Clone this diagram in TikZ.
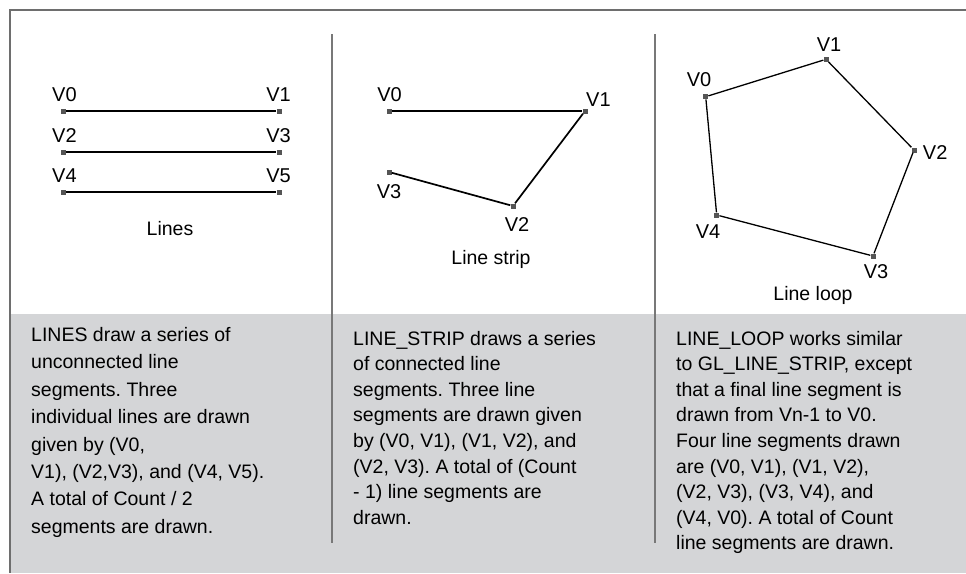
\documentclass[tikz,border=0pt]{standalone}
\usepackage{fontspec}
\setmainfont{Liberation Sans}
\frenchspacing
\definecolor{framegray}{RGB}{110,110,110}
\definecolor{dividergray}{RGB}{120,120,120}
\definecolor{panelgray}{RGB}{212,213,215}
\definecolor{vtxgray}{RGB}{85,85,85}
\newcommand{\descfont}[1]{\fontsize{19.5}{#1}\selectfont}
\begin{document}
\begin{tikzpicture}[x=1pt,y=-1pt,
  frameline/.style={draw=framegray,line width=2pt},
  divider/.style={draw=dividergray,line width=1.5pt},
  vtx/.style={rectangle,fill=vtxgray,inner sep=0pt,minimum size=5pt},
  vlabel/.style={inner sep=0pt,font=\fontsize{20}{24}\selectfont},
  caption/.style={inner sep=0pt,anchor=base,font=\fontsize{19.5}{24}\selectfont},
  desc/.style={inner sep=0pt,anchor=base west},
  seg/.style={draw=black,line width=#1},
  seg/.default=1.5pt]
\useasboundingbox (0,0) rectangle (966,573);

% grey band behind the descriptions, and the outer frame
\fill[panelgray] (10,314) rectangle (966,573);
\draw[frameline] (966,10) -- (10,10) -- (10,573);

% column separators
\draw[divider] (332,34) -- (332,543);
\draw[divider] (655,34) -- (655,543);

% ---------- Lines ----------
\node[vtx] (a0) at (63,111) {};
\node[vtx] (a1) at (279,111) {};
\node[vtx] (a2) at (63,152) {};
\node[vtx] (a3) at (279,152) {};
\node[vtx] (a4) at (63,192) {};
\node[vtx] (a5) at (279,192) {};
\draw[seg=2pt] (a0) -- (a1);
\draw[seg=2pt] (a2) -- (a3);
\draw[seg=2pt] (a4) -- (a5);
\node[vlabel,anchor=base west] (la0) at (52,101) {V0};
\node[vlabel,anchor=base east] (la1) at (291,101) {V1};
\node[vlabel,anchor=base west] (la2) at (52,142) {V2};
\node[vlabel,anchor=base east] (la3) at (291,142) {V3};
\node[vlabel,anchor=base west] (la4) at (52,182) {V4};
\node[vlabel,anchor=base east] (la5) at (291,182) {V5};
\node[caption] (capa) at (170,235.5) {Lines};

% ---------- Line strip ----------
\node[vtx] (b0) at (389,111) {};
\node[vtx] (b1) at (585,111) {};
\node[vtx] (b2) at (513,206) {};
\node[vtx] (b3) at (389,172) {};
\draw[seg=1.7pt] (b0) -- (b1);
\draw[seg=1.7pt] (b1) -- (b2);
\draw[seg=1.7pt] (b2) -- (b3);
\node[vlabel,anchor=base] (lb0) at (389.5,101) {V0};
\node[vlabel,anchor=base west] (lb1) at (586,106.7) {V1};
\node[vlabel,anchor=base] (lb3) at (389,198.3) {V3};
\node[vlabel,anchor=base] (lb2) at (517,231.7) {V2};
\node[caption] (capb) at (491,264.5) {Line strip};

% ---------- Line loop ----------
\node[vtx] (c0) at (705.7,96.7) {};
\node[vtx] (c1) at (826,59.3) {};
\node[vtx] (c2) at (914,150) {};
\node[vtx] (c3) at (873,256) {};
\node[vtx] (c4) at (716.7,215) {};
\draw[seg=1.3pt] (c0) -- (c1);
\draw[seg=1.3pt] (c1) -- (c2);
\draw[seg=1.3pt] (c2) -- (c3);
\draw[seg=1.3pt] (c3) -- (c4);
\draw[seg=1.3pt] (c4) -- (c0);
\node[vlabel,anchor=base] (lc0) at (699,86) {V0};
\node[vlabel,anchor=base] (lc1) at (829,51.7) {V1};
\node[vlabel,anchor=base west] (lc2) at (922.7,159.3) {V2};
\node[vlabel,anchor=base] (lc3) at (876,278.3) {V3};
\node[vlabel,anchor=base] (lc4) at (708,238.3) {V4};
\node[caption] (capc) at (813,300.5) {Line loop};

% ---------- descriptions ----------
\node[desc] (da) at (31,341.5) {\descfont{27.4}\begin{tabular}[t]{@{}l@{}}
LINES draw a series of\\
unconnected line\\
segments. Three\\
individual lines are drawn\\
given by (V0,\\
V1), (V2,V3), and (V4, V5).\\
A total of Count / 2\\
segments are drawn.
\end{tabular}};

\node[desc] (db) at (353,345) {\descfont{25.6}\begin{tabular}[t]{@{}l@{}}
LINE\_STRIP draws a series\\
of connected line\\
segments. Three line\\
segments are drawn given\\
by (V0, V1), (V1, V2), and\\
(V2, V3). A total of (Count\\
- 1) line segments are\\
drawn.
\end{tabular}};

\node[desc] (dc) at (676,345) {\descfont{25.6}\begin{tabular}[t]{@{}l@{}}
LINE\_LOOP works similar\\
to GL\_LINE\_STRIP, except\\
that a final line segment is\\
drawn from Vn-1 to V0.\\
Four line segments drawn\\
are (V0, V1), (V1, V2),\\
(V2, V3), (V3, V4), and\\
(V4, V0). A total of Count\\
line segments are drawn.
\end{tabular}};
\end{tikzpicture}
\end{document}
